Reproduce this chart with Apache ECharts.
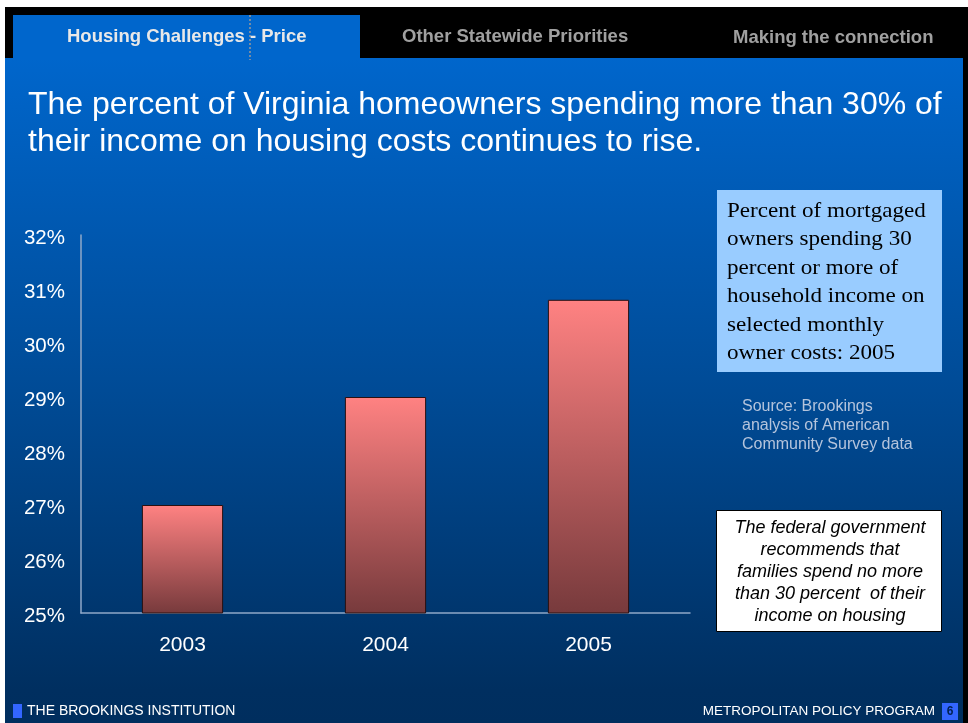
<!DOCTYPE html>
<html><head><meta charset="utf-8">
<script src="https://cdn.jsdelivr.net/npm/echarts@6/dist/echarts.min.js"></script>
<style>html,body{margin:0;padding:0;background:#fff}#c{width:968px;height:723px}</style>
</head><body><div id="c"></div>
<script>
const categories = ['2003','2004','2005'];
const values = [27.0, 29.0, 30.8];
const yTicks = [25,26,27,28,29,30,31,32];
const titleText = 'The percent of Virginia homeowners spending more than 30% of\ntheir income on housing costs continues to rise.';
const tabs = ['Housing Challenges - Price','Other Statewide Priorities','Making the connection'];
const noteText = 'Percent of mortgaged\nowners spending 30\npercent or more of\nhousehold income on\nselected monthly\nowner costs: 2005';
const sourceText = 'Source: Brookings\nanalysis of American\nCommunity Survey data';
const fedText = 'The federal government\nrecommends that\nfamilies spend no more\nthan 30 percent  of their\nincome on housing';

const chart = echarts.init(document.getElementById('c'));
const F = 'Arial, "Liberation Sans", sans-serif';
chart.setOption({
  backgroundColor: '#ffffff',
  animation: false,
  graphic: [
    {type:'rect', z:-10, shape:{x:5,y:7,width:963,height:716}, style:{fill:'#000'}},
    {type:'rect', z:-9, shape:{x:5,y:58,width:958,height:665}, style:{fill:{type:'linear',x:0,y:0,x2:0,y2:1,colorStops:[{offset:0,color:'#0066cc'},{offset:0.5,color:'#004b96'},{offset:0.95,color:'#002f60'},{offset:1,color:'#002e5e'}]}}},
    {type:'rect', z:-9, shape:{x:13,y:15,width:347,height:44}, style:{fill:'#0066cc'}},
    {type:'line', z:-8, shape:{x1:250,y1:15,x2:250,y2:60}, style:{stroke:'#999',lineWidth:1.5,lineDash:[2,2]}},
    {type:'text', x:67, y:37, style:{text:tabs[0], fill:'#e8e8e8', font:'bold 18.5px '+F, verticalAlign:'middle'}},
    {type:'text', x:402, y:37, style:{text:tabs[1], fill:'#a0a0a0', font:'bold 18.5px '+F, verticalAlign:'middle'}},
    {type:'text', x:733, y:38, style:{text:tabs[2], fill:'#a0a0a0', font:'bold 18.5px '+F, verticalAlign:'middle'}},
    {type:'text', x:28, y:87, style:{text:titleText, fill:'#ffffff', font:'32px '+F, lineHeight:37}},
    {type:'rect', shape:{x:717,y:190,width:225,height:182}, style:{fill:'#99ccff'}},
    {type:'text', x:727, y:197, scaleX:1.1, style:{text:noteText, fill:'#000', font:'21px "Liberation Serif", "DejaVu Serif", serif', lineHeight:28.5}},
    {type:'text', x:742, y:397, style:{text:sourceText, fill:'#b4c4dc', font:'16px '+F, lineHeight:19}},
    {type:'rect', shape:{x:716.5,y:510.5,width:225,height:121}, style:{fill:'#fff', stroke:'#000', lineWidth:1}},
    {type:'text', x:830, y:517, style:{text:fedText, fill:'#000', font:'italic 18px '+F, lineHeight:22, align:'center'}},
    {type:'rect', shape:{x:13,y:704,width:9,height:14}, style:{fill:'#3366ff'}},
    {type:'text', x:27, y:711, style:{text:'THE BROOKINGS INSTITUTION', fill:'#fff', font:'14px '+F, verticalAlign:'middle'}},
    {type:'text', x:935, y:711, style:{text:'METROPOLITAN POLICY PROGRAM', fill:'#fff', font:'13.5px '+F, align:'right', verticalAlign:'middle'}},
    {type:'rect', shape:{x:942,y:703,width:16,height:17}, style:{fill:'#3366ff'}},
    {type:'text', x:950, y:712, style:{text:'6', fill:'#002050', font:'bold 12px '+F, align:'center', verticalAlign:'middle'}}
  ],
  grid: {left:81, right:278, top:235, bottom:110},
  xAxis: {
    type:'category', data:categories,
    axisLine:{lineStyle:{color:'#8fa8c8', width:1.5}},
    axisTick:{show:false},
    axisLabel:{color:'#fff', fontSize:21, fontFamily:F, margin:22}
  },
  yAxis: {
    type:'value', min:yTicks[0], max:yTicks[yTicks.length-1], interval:1,
    axisLine:{show:true, lineStyle:{color:'#8fa8c8', width:1.5}},
    axisTick:{show:false},
    splitLine:{show:false},
    axisLabel:{margin:16, formatter: v => '{a|' + v + '%}',
      rich:{a:{color:'#fff', fontSize:20.5, fontFamily:F, padding:[6,0,0,0]}}}
  },
  series: [{
    type:'bar', data:values, barWidth:'40%',
    itemStyle:{
      color:{type:'linear',x:0,y:0,x2:0,y2:1,colorStops:[{offset:0,color:'#ff8282'},{offset:1,color:'#773a3c'}]},
      borderColor:'#2a1010', borderWidth:1
    }
  }]
});
</script></body></html>
